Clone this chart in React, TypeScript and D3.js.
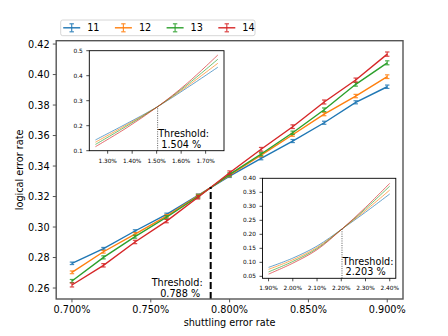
import React from 'react';
import * as d3 from 'd3';

// shuttling error rate (%) for the main panel
const mainRates = [0.7, 0.72, 0.74, 0.76, 0.78, 0.8, 0.82, 0.84, 0.86, 0.88, 0.9];
const seriesNames = ['11', '12', '13', '14'];
const colors = ['#1f77b4', '#ff7f0e', '#2ca02c', '#d62728'];

const main11 = [0.2762, 0.2858, 0.2974, 0.3083, 0.3208, 0.3334, 0.345, 0.3564, 0.3684, 0.3818, 0.392];
const main12 = [0.2703, 0.2838, 0.2954, 0.3072, 0.3205, 0.334, 0.3472, 0.3605, 0.3741, 0.3859, 0.3986];
const main13 = [0.2646, 0.2801, 0.2937, 0.3064, 0.32, 0.3345, 0.3479, 0.3618, 0.3769, 0.3936, 0.4077];
const main14 = [0.262, 0.2749, 0.2902, 0.3039, 0.3195, 0.3356, 0.351, 0.3658, 0.382, 0.3964, 0.4134];

const err11 = [0.0008, 0.0008, 0.0008, 0.0008, 0.0009, 0.0009, 0.0009, 0.001, 0.001, 0.001, 0.0011];
const err12 = [0.0009, 0.0009, 0.0009, 0.0009, 0.001, 0.001, 0.001, 0.001, 0.0011, 0.0011, 0.0012];
const err13 = [0.001, 0.001, 0.001, 0.001, 0.001, 0.0011, 0.0011, 0.0011, 0.0012, 0.0012, 0.0013];
const err14 = [0.0013, 0.0011, 0.0011, 0.0011, 0.0011, 0.0012, 0.0012, 0.0012, 0.0013, 0.0013, 0.0014];

const mainTicksX = [0.7, 0.75, 0.8, 0.85, 0.9];
const mainTicksY = [0.26, 0.28, 0.3, 0.32, 0.34, 0.36, 0.38, 0.4, 0.42];
const mainThreshold = 0.788;
const mainThresholdY = 0.3262;

// inset 1 (upper left)
const inset1Rates = [1.25, 1.375, 1.504, 1.625, 1.75];
const inset1_11 = [0.143, 0.207, 0.276, 0.352, 0.434];
const inset1_12 = [0.134, 0.202, 0.276, 0.358, 0.45];
const inset1_13 = [0.125, 0.197, 0.276, 0.364, 0.466];
const inset1_14 = [0.116, 0.19, 0.276, 0.37, 0.483];
const inset1TicksX = [1.3, 1.4, 1.5, 1.6, 1.7];
const inset1TicksY = [0.1, 0.2, 0.3, 0.4, 0.5];
const inset1Threshold = 1.504;
const inset1ThresholdY = 0.276;

// inset 2 (lower right)
const inset2Rates = [1.9, 2.0, 2.1, 2.203, 2.3, 2.4];
const inset2_11 = [0.082, 0.115, 0.158, 0.219, 0.279, 0.344];
const inset2_12 = [0.075, 0.109, 0.153, 0.219, 0.285, 0.358];
const inset2_13 = [0.066, 0.103, 0.149, 0.219, 0.291, 0.372];
const inset2_14 = [0.058, 0.097, 0.145, 0.219, 0.296, 0.382];
const inset2TicksX = [1.9, 2.0, 2.1, 2.2, 2.3, 2.4];
const inset2TicksY = [0.05, 0.1, 0.15, 0.2, 0.25, 0.3, 0.35, 0.4];
const inset2Threshold = 2.203;
const inset2ThresholdY = 0.219;

const FONT = 'DejaVu Sans, sans-serif';

const Inset = ({ box, xDom, yDom, rates, series, ticksX, ticksY, fx, fy, thr, thrY, label }) => {
  const x = d3.scaleLinear().domain(xDom).range([box.l, box.r]);
  const y = d3.scaleLinear().domain(yDom).range([box.b, box.t]);
  const line = d3
    .line<number>()
    .x((_, i) => x(rates[i]))
    .y((d) => y(d))
    .curve(d3.curveCatmullRom.alpha(0.5));
  return (
    <g>
      <rect x={box.l} y={box.t} width={box.r - box.l} height={box.b - box.t} fill="#fff" />
      {series.map((s, k) => (
        <path key={k} d={line(s) || ''} fill="none" stroke={colors[k]} strokeWidth={0.8} opacity={0.85} />
      ))}
      <line x1={x(thr)} x2={x(thr)} y1={box.b} y2={y(thrY)} stroke="#333" strokeWidth={0.8} strokeDasharray="1,1.3" />
      <text x={x(thr) + 0.5} y={box.b - 13.5} fontSize={9.7} fontFamily={FONT}>Threshold:</text>
      <text x={x(thr) + 3.6} y={box.b - 3} fontSize={9.7} fontFamily={FONT}>{label}</text>
      <rect x={box.l} y={box.t} width={box.r - box.l} height={box.b - box.t} fill="none" stroke="#000" strokeWidth={0.9} />
      {ticksX.map((t) => (
        <g key={t}>
          <line x1={x(t)} x2={x(t)} y1={box.b} y2={box.b + 3} stroke="#000" strokeWidth={0.7} />
          <text x={x(t)} y={box.b + 11.8} fontSize={5.8} fontFamily={FONT} textAnchor="middle">{fx(t)}</text>
        </g>
      ))}
      {ticksY.map((t) => (
        <g key={t}>
          <line x1={box.l} x2={box.l - 3} y1={y(t)} y2={y(t)} stroke="#000" strokeWidth={0.7} />
          <text x={box.l - 6.5} y={y(t) + 2.1} fontSize={5.8} fontFamily={FONT} textAnchor="end">{fy(t)}</text>
        </g>
      ))}
    </g>
  );
};

const App = () => {
  const W = 448;
  const H = 336;
  const m = { l: 56.2, r: 403, t: 40.7, b: 299 };
  const x = d3.scaleLinear().domain([0.69, 0.91]).range([m.l, m.r]);
  const y = d3.scaleLinear().domain([0.2528, 0.4222]).range([m.b, m.t]);

  const mainSeries = [main11, main12, main13, main14];
  const mainErr = [err11, err12, err13, err14];
  const line = d3
    .line<number>()
    .x((_, i) => x(mainRates[i]))
    .y((d) => y(d));

  const legendX = [71.7, 123.4, 175.1, 226.8];
  const legendY = 27.8;

  return (
    <svg
      width={W}
      height={H}
      style={{ position: 'absolute', left: 0, top: 0, background: '#fff' }}
    >
      {/* main series with error bars */}
      {mainSeries.map((s, k) => (
        <g key={k}>
          <path d={line(s) || ''} fill="none" stroke={colors[k]} strokeWidth={1.4} />
          {s.map((v, i) => {
            const cx = x(mainRates[i]);
            const e = mainErr[k][i];
            return (
              <g key={i} stroke={colors[k]} strokeWidth={1.2} opacity={0.85}>
                <line x1={cx} x2={cx} y1={y(v - e)} y2={y(v + e)} />
                <line x1={cx - 2.2} x2={cx + 2.2} y1={y(v - e)} y2={y(v - e)} />
                <line x1={cx - 2.2} x2={cx + 2.2} y1={y(v + e)} y2={y(v + e)} />
              </g>
            );
          })}
        </g>
      ))}

      {/* main threshold */}
      <line
        x1={x(mainThreshold)}
        x2={x(mainThreshold)}
        y1={m.b}
        y2={y(mainThresholdY)}
        stroke="#000"
        strokeWidth={2}
        strokeDasharray="7,3"
      />
      <text x={x(mainThreshold) - 8} y={m.b - 13} fontSize={9.7} fontFamily={FONT} textAnchor="end">Threshold:</text>
      <text x={x(mainThreshold) - 10.5} y={m.b - 1.8} fontSize={9.7} fontFamily={FONT} textAnchor="end">
        {`${mainThreshold.toFixed(3)} %`}
      </text>

      <Inset
        box={{ l: 89.3, r: 224, t: 50.7, b: 150.7 }}
        xDom={[1.225, 1.775]}
        yDom={[0.1, 0.5]}
        rates={inset1Rates}
        series={[inset1_11, inset1_12, inset1_13, inset1_14]}
        ticksX={inset1TicksX}
        ticksY={inset1TicksY}
        fx={(t) => `${t.toFixed(2)}%`}
        fy={(t) => t.toFixed(1)}
        thr={inset1Threshold}
        thrY={inset1ThresholdY}
        label={`${inset1Threshold.toFixed(3)} %`}
      />
      <Inset
        box={{ l: 262.5, r: 395.8, t: 178.3, b: 278.3 }}
        xDom={[1.875, 2.425]}
        yDom={[0.043, 0.4]}
        rates={inset2Rates}
        series={[inset2_11, inset2_12, inset2_13, inset2_14]}
        ticksX={inset2TicksX}
        ticksY={inset2TicksY}
        fx={(t) => `${t.toFixed(2)}%`}
        fy={(t) => t.toFixed(2)}
        thr={inset2Threshold}
        thrY={inset2ThresholdY}
        label={`${inset2Threshold.toFixed(3)} %`}
      />

      {/* main frame and axes */}
      <rect x={m.l} y={m.t} width={m.r - m.l} height={m.b - m.t} fill="none" stroke="#555" strokeWidth={1.4} />
      {mainTicksX.map((t) => (
        <g key={t}>
          <line x1={x(t)} x2={x(t)} y1={m.b} y2={m.b + 3.4} stroke="#555" strokeWidth={1} />
          <text x={x(t)} y={m.b + 14.3} fontSize={9.7} fontFamily={FONT} textAnchor="middle">{`${t.toFixed(3)}%`}</text>
        </g>
      ))}
      {mainTicksY.map((t) => (
        <g key={t}>
          <line x1={m.l} x2={m.l - 3.4} y1={y(t)} y2={y(t)} stroke="#555" strokeWidth={1} />
          <text x={m.l - 6.5} y={y(t) + 3.5} fontSize={9.7} fontFamily={FONT} textAnchor="end">{t.toFixed(2)}</text>
        </g>
      ))}
      <text x={(m.l + m.r) / 2} y={325.5} fontSize={9.7} fontFamily={FONT} textAnchor="middle">shuttling error rate</text>
      <text
        transform={`translate(22.5,${(m.t + m.b) / 2}) rotate(-90)`}
        fontSize={9.7}
        fontFamily={FONT}
        textAnchor="middle"
      >
        logical error rate
      </text>

      {/* legend */}
      <rect x={60.7} y={20} width={194.3} height={15.7} rx={2} fill="#fff" stroke="#ccc" strokeWidth={0.8} />
      {seriesNames.map((name, k) => {
        const cx = legendX[k];
        return (
          <g key={name}>
            <line x1={cx - 8.5} x2={cx + 8.5} y1={legendY} y2={legendY} stroke={colors[k]} strokeWidth={1.4} />
            <g stroke={colors[k]} strokeWidth={1.2} opacity={0.85}>
              <line x1={cx} x2={cx} y1={legendY - 4} y2={legendY + 4} />
              <line x1={cx - 2.2} x2={cx + 2.2} y1={legendY - 4} y2={legendY - 4} />
              <line x1={cx - 2.2} x2={cx + 2.2} y1={legendY + 4} y2={legendY + 4} />
            </g>
            <text x={cx + 15.5} y={legendY + 3.5} fontSize={9.7} fontFamily={FONT}>{name}</text>
          </g>
        );
      })}
    </svg>
  );
};

export default App;
